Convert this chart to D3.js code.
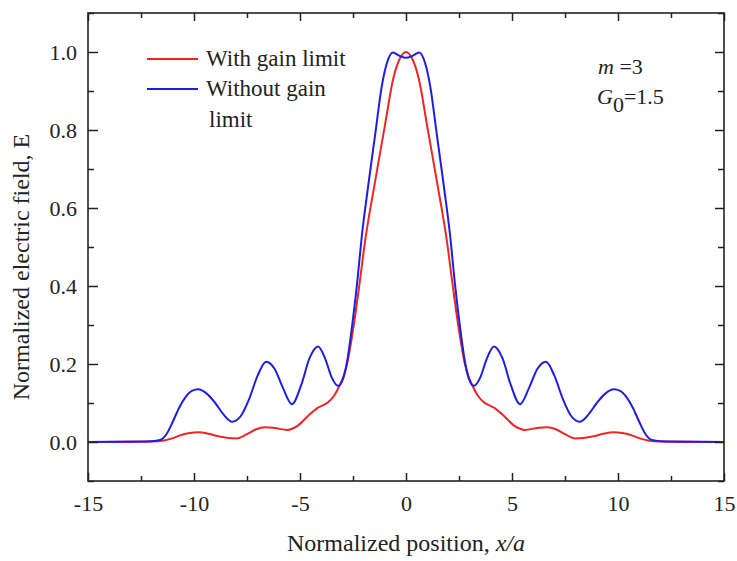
<!DOCTYPE html>
<html>
<head>
<meta charset="utf-8">
<script src="https://cdn.jsdelivr.net/npm/d3@7/dist/d3.min.js"></script>
<style>
  html, body { margin: 0; padding: 0; background: #fff; }
  svg { display: block; }
  text { font-family: "Liberation Serif", "Times New Roman", serif; fill: #222; }
</style>
</head>
<body>
<svg id="chart" width="737" height="561"></svg>
<script>
// ---- Data ----
const xMajorTicks = [-15, -10, -5, 0, 5, 10, 15];
const xMinorTicks = [-12.5, -7.5, -2.5, 2.5, 7.5, 12.5];
const yMajorTicks = [0.0, 0.2, 0.4, 0.6, 0.8, 1.0];
const yMinorTicks = [-0.1, 0.1, 0.3, 0.5, 0.7, 0.9, 1.1];

const seriesNames = ["With gain limit", "Without gain limit"];

// Without gain limit (blue)
const blueX = [-15, -13, -12, -11.6, -11.3, -11.0, -10.7, -10.4, -10.1, -9.8, -9.4, -9.0, -8.6, -8.2, -7.8, -7.4, -7.0, -6.6, -6.2, -5.8, -5.38, -4.95, -4.55, -4.15, -3.8, -3.5, -3.2, -2.95, -2.8, -2.56, -2.3, -2.09, -1.8, -1.45, -1.15, -0.9, -0.62, -0.3,
  0,
  0.3, 0.62, 0.9, 1.15, 1.45, 1.8, 2.09, 2.3, 2.56, 2.8, 2.95, 3.2, 3.5, 3.8, 4.15, 4.55, 4.95, 5.38, 5.8, 6.2, 6.6, 7.0, 7.4, 7.8, 8.2, 8.6, 9.0, 9.4, 9.8, 10.1, 10.4, 10.7, 11.0, 11.3, 11.6, 12, 13, 15];
const blueE = [0, 0.001, 0.002, 0.005, 0.02, 0.052, 0.088, 0.115, 0.131, 0.135, 0.124, 0.1, 0.07, 0.052, 0.066, 0.11, 0.17, 0.206, 0.188, 0.138, 0.097, 0.145, 0.215, 0.245, 0.212, 0.165, 0.144, 0.165, 0.2, 0.29, 0.41, 0.525, 0.65, 0.79, 0.91, 0.972, 0.999, 0.99,
  0.985,
  0.99, 0.999, 0.972, 0.91, 0.79, 0.65, 0.525, 0.41, 0.29, 0.2, 0.165, 0.144, 0.165, 0.212, 0.245, 0.215, 0.145, 0.097, 0.138, 0.188, 0.206, 0.17, 0.11, 0.066, 0.052, 0.07, 0.1, 0.124, 0.135, 0.131, 0.115, 0.088, 0.052, 0.02, 0.005, 0.002, 0.001, 0];

// With gain limit (red)
const redX = [-15, -13, -12, -11.5, -11.0, -10.6, -10.2, -9.8, -9.3, -8.8, -8.0, -7.5, -7.1, -6.65, -6.2, -5.6, -5.1, -4.6, -4.15, -3.7, -3.4, -3.15, -2.95, -2.78, -2.49, -2.17, -1.93, -1.5, -1.0, -0.6, -0.3,
  0,
  0.3, 0.6, 1.0, 1.5, 1.93, 2.17, 2.49, 2.78, 2.95, 3.15, 3.4, 3.7, 4.15, 4.6, 5.1, 5.6, 6.2, 6.65, 7.1, 7.5, 8.0, 8.8, 9.3, 9.8, 10.2, 10.6, 11.0, 11.5, 12, 13, 15];
const redE = [0, 0, 0.001, 0.003, 0.01, 0.018, 0.023, 0.025, 0.021, 0.014, 0.009, 0.02, 0.032, 0.038, 0.036, 0.031, 0.042, 0.068, 0.088, 0.101, 0.118, 0.143, 0.168, 0.2, 0.29, 0.415, 0.515, 0.655, 0.81, 0.932, 0.982,
  1.0,
  0.982, 0.932, 0.81, 0.655, 0.515, 0.415, 0.29, 0.2, 0.168, 0.143, 0.118, 0.101, 0.088, 0.068, 0.042, 0.031, 0.036, 0.038, 0.032, 0.02, 0.009, 0.014, 0.021, 0.025, 0.023, 0.018, 0.01, 0.003, 0.001, 0, 0];

// ---- Layout ----
const svg = d3.select("#chart");
const mLeft = 88, mTop = 13, mRight = 724, mBottom = 481;
const W = mRight - mLeft, H = mBottom - mTop;
const RED = "#ec2626", BLUE = "#1e1ede";
const AX = "#222";

const x = d3.scaleLinear().domain([-15, 15]).range([0, W]);
const y = d3.scaleLinear().domain([-0.1, 1.1]).range([H, 0]);

const g = svg.append("g").attr("transform", `translate(${mLeft},${mTop})`);

// Curves
const line = d3.line().x(d => x(d[0])).y(d => y(d[1])).curve(d3.curveMonotoneX);
const redData = redX.map((v, i) => [v, redE[i]]);
const blueData = blueX.map((v, i) => [v, blueE[i]]);

g.append("path").datum(redData).attr("d", line)
  .attr("fill", "none").attr("stroke", RED).attr("stroke-width", 2);
g.append("path").datum(blueData).attr("d", line)
  .attr("fill", "none").attr("stroke", BLUE).attr("stroke-width", 2);

// Axes
function style(sel) {
  sel.select(".domain").remove();
  sel.selectAll(".tick line").attr("stroke", AX).attr("stroke-width", 1.5);
  sel.selectAll(".tick text").attr("fill", "#222").style("font-size", "22px")
    .style("font-family", '"Liberation Serif", "Times New Roman", serif');
}
const fmtX = d => String(d);
const fmtY = d3.format(".1f");

// bottom
g.append("g").attr("transform", `translate(0,${H})`)
  .call(d3.axisBottom(x).tickValues(xMajorTicks).tickSize(-8).tickPadding(14).tickFormat(fmtX)).call(style);
g.append("g").attr("transform", `translate(0,${H})`)
  .call(d3.axisBottom(x).tickValues(xMinorTicks).tickSize(-5).tickFormat("")).call(style);
// top
g.append("g")
  .call(d3.axisTop(x).tickValues(xMajorTicks).tickSize(-8).tickFormat("")).call(style);
g.append("g")
  .call(d3.axisTop(x).tickValues(xMinorTicks).tickSize(-5).tickFormat("")).call(style);
// left
g.append("g")
  .call(d3.axisLeft(y).tickValues(yMajorTicks).tickSize(-10).tickPadding(11).tickFormat(fmtY)).call(style);
g.append("g")
  .call(d3.axisLeft(y).tickValues(yMinorTicks).tickSize(-6).tickFormat("")).call(style);
// right
g.append("g").attr("transform", `translate(${W},0)`)
  .call(d3.axisRight(y).tickValues(yMajorTicks).tickSize(-9).tickFormat("")).call(style);
g.append("g").attr("transform", `translate(${W},0)`)
  .call(d3.axisRight(y).tickValues(yMinorTicks).tickSize(-6).tickFormat("")).call(style);

// Frame
g.append("rect").attr("x", 0).attr("y", 0).attr("width", W).attr("height", H)
  .attr("fill", "none").attr("stroke", AX).attr("stroke-width", 1.6);

// Axis titles
const xt = svg.append("text").attr("x", mLeft + W / 2).attr("y", 551)
  .attr("text-anchor", "middle").style("font-size", "24px");
xt.append("tspan").text("Normalized position, ");
xt.append("tspan").style("font-style", "italic").text("x/a");

svg.append("text").attr("transform", `translate(29,${mTop + H / 2 + 20}) rotate(-90)`)
  .attr("text-anchor", "middle").style("font-size", "24px")
  .text("Normalized electric field, E");

// Legend
const lg = svg.append("g");
lg.append("line").attr("x1", 147).attr("x2", 198).attr("y1", 59).attr("y2", 59)
  .attr("stroke", RED).attr("stroke-width", 2);
lg.append("text").attr("x", 206).attr("y", 66).style("font-size", "23px").text(seriesNames[0]);
lg.append("line").attr("x1", 147).attr("x2", 198).attr("y1", 89).attr("y2", 89)
  .attr("stroke", BLUE).attr("stroke-width", 2);
lg.append("text").attr("x", 206).attr("y", 96).style("font-size", "23px").text("Without gain");
lg.append("text").attr("x", 209).attr("y", 127).style("font-size", "23px").text("limit");

// Parameters
const p1 = svg.append("text").attr("x", 598).attr("y", 74).style("font-size", "22px");
p1.append("tspan").style("font-style", "italic").text("m");
p1.append("tspan").text(" =3");
const p2 = svg.append("text").attr("x", 597).attr("y", 104).style("font-size", "22px");
p2.append("tspan").style("font-style", "italic").text("G");
p2.append("tspan").attr("dy", 8).text("0");
p2.append("tspan").attr("dy", -8).text("=1.5");
</script>
</body>
</html>
